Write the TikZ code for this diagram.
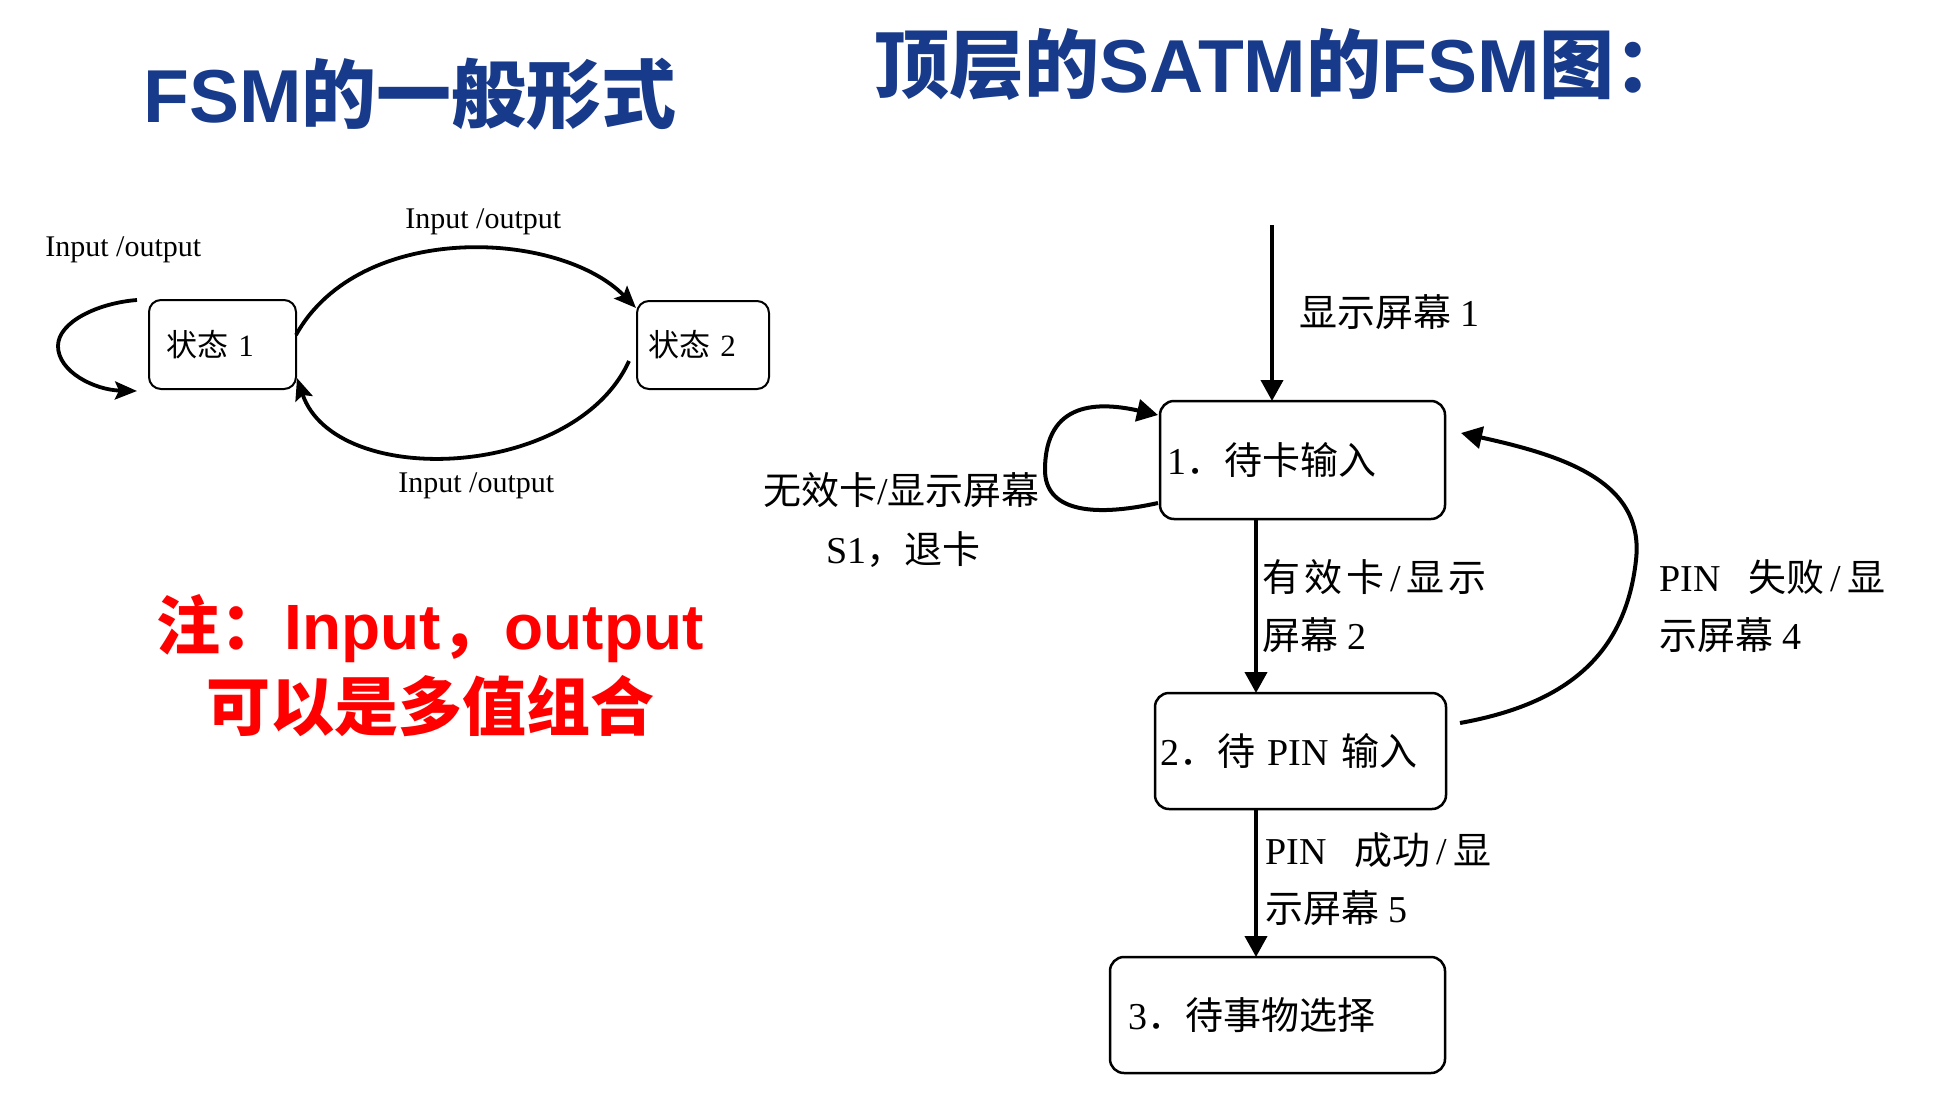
\documentclass[tikz,border=0pt]{standalone}
\usepackage{fontspec}
\setmainfont{Liberation Serif}
\newfontfamily\zhfont{Noto Sans CJK SC}
\newfontfamily\arialfont{Liberation Sans}
\newcommand\zh[1]{{\zhfont #1}}
\newcommand\zhb[1]{{\zhfont\bfseries #1}}
\newcommand\arb[1]{{\arialfont\bfseries #1}}
\usetikzlibrary{arrows.meta}
\definecolor{titleblue}{RGB}{24,58,138}
\definecolor{notered}{RGB}{255,0,0}
\begin{document}
\begin{tikzpicture}[x=0.5pt,y=-0.5pt,
  title/.style={font=\fontsize{37.5pt}{40pt}\selectfont, text=titleblue, inner sep=0, anchor=base west},
  note/.style={font=\fontsize{32pt}{36pt}\selectfont, text=notered, inner sep=0},
  sbox/.style={draw, line width=1pt, rounded corners=6pt, inner ysep=0pt, outer sep=0pt, align=left, font=\fontsize{15.5pt}{17pt}\selectfont},
  lbl/.style={font=\fontsize{15pt}{17pt}\selectfont, inner sep=0pt, anchor=west},
  larr/.style={line width=1.9pt, -{Stealth[length=11pt,width=9pt,inset=2pt]}},
  rbox/.style={draw, line width=1.25pt, rounded corners=7pt, inner ysep=0pt, outer sep=0pt, align=left, font=\fontsize{19pt}{22pt}\selectfont},
  rlbl/.style={font=\fontsize{19pt}{22pt}\selectfont, inner sep=0pt, anchor=west},
  rarr/.style={line width=2pt, -{Triangle[length=10.5pt,width=11pt]}},
]
\fill[white] (0,0) rectangle (1958,1102);
\useasboundingbox (0,0) rectangle (1958,1102);

% titles
\node[title] (t1) at (143,122) {\arb{FSM}\zhb{的一般形式}};
\node[title] (t2) at (874,93) {\zhb{顶层的}\arb{SATM}\zhb{的}\arb{FSM}\zhb{图：}};

% left FSM
\node[sbox, text width=56.5pt, inner xsep=8.5pt, minimum height=44.5pt, anchor=north west] (s1) at (149,300) {\zh{状态}~1};
\node[sbox, text width=55pt, inner xsep=5.5pt, minimum height=44pt, anchor=north west] (s2) at (637,301) {\zh{状态}~2};

\node[lbl] (l0) at (45,250) {Input /output};
\node[lbl] (l1) at (405,222) {Input /output};
\node[lbl] (l2) at (398,486) {Input /output};

\draw[larr] ([xshift=-6pt]s1.north west) .. controls (98,303) and (58,322) .. (58,346) .. controls (58,372) and (95,390) .. ([xshift=-6pt,yshift=-1pt]s1.south west);
\draw[larr] ([yshift=4.75pt]s1.east) .. controls (360,220) and (560,230) .. ([xshift=-0.5pt,yshift=-3.5pt]s2.north west);
\draw[larr] ([xshift=-4pt,yshift=-8pt]s2.west) .. controls (575,480) and (335,490) .. ([xshift=0.5pt,yshift=-16.75pt]s1.east);

% note
\node[note, anchor=base] (n1) at (430,649) {\zhb{注：}\arb{Input}\zhb{，}\arb{output}};
\node[note] (n2) at (430,706) {\zhb{可以是多值组合}};

% right FSM
\node[rbox, text width=135.5pt, inner xsep=3.5pt, minimum height=59pt, anchor=north west] (b1) at (1160,401) {1\zh{．待卡输入}};
\node[rbox, text width=140.5pt, inner xsep=2.5pt, minimum height=58pt, anchor=north west] (b2) at (1155,693) {2\zh{．待} PIN \zh{输入}};
\node[rbox, text width=149.5pt, inner xsep=9pt, minimum height=58pt, anchor=north west] (b3) at (1110,957) {3\zh{．待事物选择}};

\coordinate (st) at (1272,225);
\draw[rarr] (st) -- (st |- b1.north);
\draw[rarr] (1256,0 |- b1.south) -- (1256,0 |- b2.north);
\draw[rarr] (1256,0 |- b2.south) -- (1256,0 |- b3.north);
\draw[rarr] ([xshift=-1pt,yshift=8pt]b1.south west) .. controls (1090,518) and (1045,510) .. (1045,470) .. controls (1045,400) and (1100,402) .. ([xshift=-1pt,yshift=-7pt]b1.north west);
\draw[rarr] ([xshift=7pt,yshift=14pt]b2.east) .. controls (1560,705) and (1625,660) .. (1636,560) .. controls (1645,480) and (1560,455) .. ([xshift=8pt,yshift=13.5pt]b1.east);

\node[rlbl] (m0) at (1299,312) {\zh{显示屏幕} 1};
\node[rlbl] (m1) at (763,490) {\zh{无效卡}/\zh{显示屏幕}};
\node[rlbl] (m1b) at (826,550) {S1\zh{，退卡}};
\node[rlbl] (m2) at (1262,577) {\zh{有\hspace{2pt}效\hspace{2pt}卡}\hspace{3pt}/\hspace{3pt}\zh{显\hspace{2pt}示}};
\node[rlbl] (m2b) at (1262,635) {\zh{屏幕} 2};
\node[rlbl] (m3) at (1659,577) {PIN\hspace{14pt}\zh{失败}\hspace{3pt}/\hspace{3pt}\zh{显}};
\node[rlbl] (m3b) at (1659,635) {\zh{示屏幕} 4};
\node[rlbl] (m4) at (1265,850) {PIN\hspace{14pt}\zh{成功}\hspace{3pt}/\hspace{3pt}\zh{显}};
\node[rlbl] (m4b) at (1265,908) {\zh{示屏幕} 5};
\end{tikzpicture}
\end{document}
